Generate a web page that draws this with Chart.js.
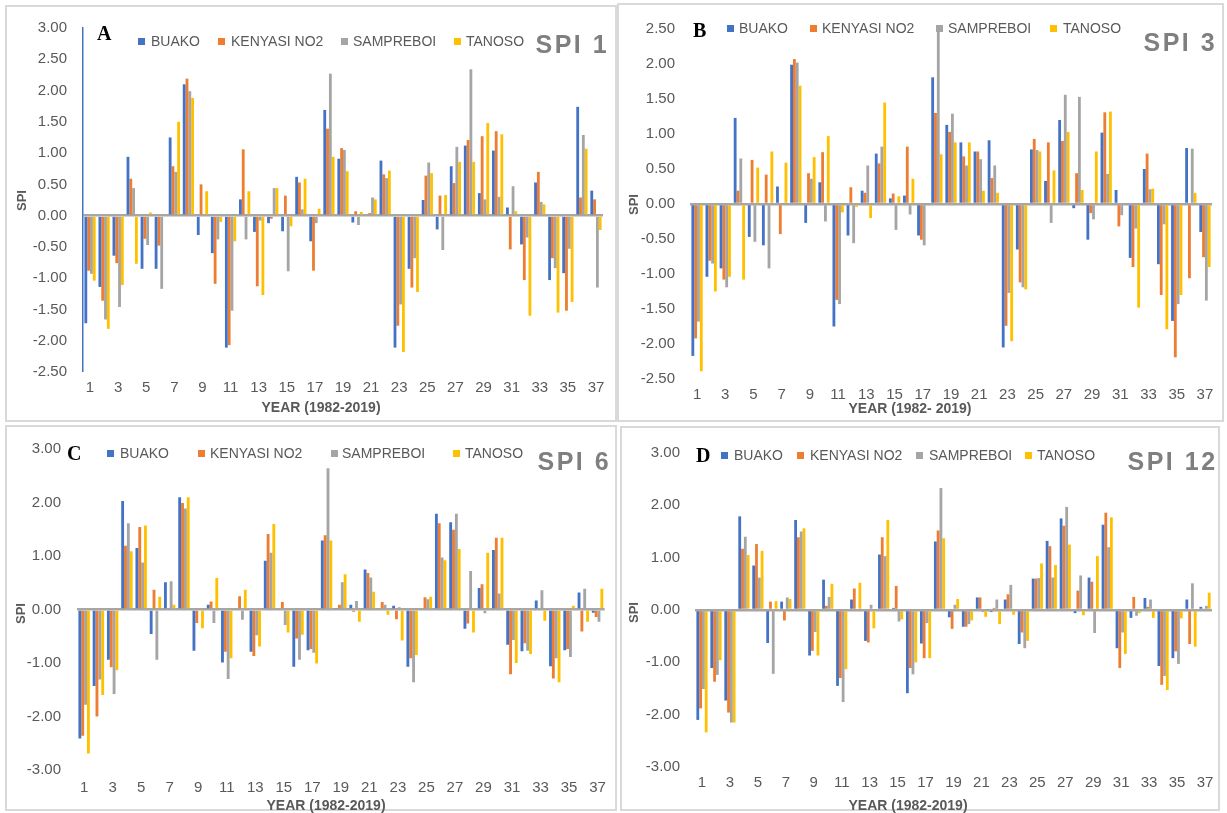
<!DOCTYPE html>
<html lang="en">

<head>
    <meta charset="UTF-8">
    <title>SPI 1, 3, 6, 12</title>
    <script src="https://cdn.jsdelivr.net/npm/chart.js"></script>

    <style>
        body {
            margin: 0;
            background: #ffffff;
            font-family: "Liberation Sans", Arial, sans-serif;
        }

        #page {
            position: relative;
            width: 1227px;
            height: 813px;
            overflow: hidden;
            background: #ffffff;
        }

        .frame {
            position: absolute;
            border: 2px solid #d9d9d9;
            box-sizing: border-box;
        }

        .chart-box {
            position: absolute;
        }

        .txt {
            position: absolute;
            white-space: nowrap;
            line-height: 1;
        }

        .sq {
            position: absolute;
            width: 7px;
            height: 7px;
        }
    </style>
</head>

<body>
    <div id="page"></div>

    <script>
        // years 1..37 (1982-2019)
        const years = [];
        for (let i = 1; i <= 37; i++) years.push(String(i));

        const seriesNames = ["BUAKO", "KENYASI NO2", "SAMPREBOI", "TANOSO"];
        const seriesColors = ["#4472C4", "#ED7D31", "#A5A5A5", "#FFC000"];

        // SPI 1
        const spi1Buako = [-1.72, -1.14, -0.64, 0.94, -0.85, -0.85, 1.25, 2.10, -0.31, -0.60, -2.11, 0.26, -0.26, -0.12, -0.25, 0.62, -0.41, 1.69, 0.91, -0.11, 0.02, 0.88, -2.11, -0.85, 0.25, -0.22, 0.79, 1.12, 0.36, 1.04, 0.13, -0.46, 0.53, -1.03, -0.92, 1.74, 0.40];
        const spi1Kenyasi = [-0.88, -1.36, -0.76, 0.59, -0.37, -0.48, 0.79, 2.19, 0.50, -1.09, -2.07, 1.06, -1.13, -0.05, 0.32, 0.53, -0.88, 1.39, 1.08, 0.07, 0.04, 0.66, -1.76, -1.15, 0.64, 0.32, 0.52, 1.21, 1.27, 1.35, -0.54, -1.03, 0.70, -0.68, -1.52, 0.29, 0.26];
        const spi1Sampreboi = [-0.93, -1.66, -1.46, 0.44, -0.47, -1.17, 0.70, 1.99, 0, -0.38, -1.52, -0.38, -0.08, 0.44, -0.89, 0.10, -0.12, 2.27, 1.05, -0.15, 0.29, 0.60, -1.42, -0.68, 0.85, -0.55, 1.10, 2.34, 0.26, 0.30, 0.47, -0.35, 0.22, -0.84, -0.53, 1.29, -1.15];
        const spi1Tanoso = [-1.04, -1.81, -1.11, -0.77, 0.05, 0, 1.50, 1.88, 0.39, -0.10, -0.41, 0.39, -1.27, 0.44, -0.17, 0.59, 0.11, 0.94, 0.71, 0.06, 0.26, 0.72, -2.18, -1.22, 0.68, 0.33, 0.86, 0.86, 1.48, 1.30, 0.07, -1.60, 0.18, -1.55, -1.38, 1.07, -0.23];

        // SPI 3
        const spi3Buako = [-2.17, -1.04, -0.92, 1.23, -0.47, -0.59, 0.25, 1.99, -0.27, 0.31, -1.75, -0.45, 0.19, 0.72, 0.08, 0.12, -0.45, 1.81, 1.13, 0.88, 0.75, 0.91, -2.05, -0.65, 0.78, 0.33, 1.20, -0.06, -0.51, 1.02, 0.20, -0.77, 0.50, -0.86, -1.67, 0.80, -0.40];
        const spi3Kenyasi = [-1.92, -0.81, -1.08, 0.19, 0.63, 0.42, -0.43, 2.07, 0.44, 0.74, -1.37, 0.24, 0.16, 0.58, 0.15, 0.82, -0.51, 1.30, 1.03, 0.68, 0.75, 0.37, -1.74, -1.12, 0.93, 0.88, 0.90, 0.44, -0.13, 1.31, -0.32, -0.90, 0.72, -1.30, -2.19, -1.06, -0.76];
        const spi3Sampreboi = [-1.68, -0.85, -1.19, 0.65, -0.54, -0.92, 0, 2.02, 0.36, -0.25, -1.43, -0.56, 0.55, 0.82, -0.37, -0.15, -0.59, 2.55, 1.29, 0.55, 0.64, 0.55, -1.27, -1.19, 0.77, -0.27, 1.56, 1.53, -0.22, 0.43, -0.16, -0.35, 0.21, -0.29, -1.43, 0.79, -1.38];
        const spi3Tanoso = [-2.39, -1.25, -1.04, -1.08, 0.52, 0.75, 0.59, 1.69, 0.67, 0.97, -0.12, -0.04, -0.20, 1.45, 0.11, 0.36, 0, 0.71, 0.88, 0.88, 0.19, 0.16, -1.96, -1.22, 0.75, 0.48, 1.03, 0.20, 0.75, 1.32, 0, -1.48, 0.22, -1.79, -1.30, 0.16, -0.90];

        // SPI 6
        const spi6Buako = [-2.41, -1.43, -0.94, 2.03, 1.15, -0.46, 0.51, 2.10, -0.77, 0.09, -0.99, 0, -0.79, 0.91, 0, -1.07, -0.76, 1.29, 0.03, 0.09, 0.75, 0, 0.07, -1.07, 0, 1.79, 1.63, -0.36, 0.40, 1.11, -0.66, -0.78, 0.17, -1.06, -0.76, 0.32, -0.06];
        const spi6Kenyasi = [-2.36, -2.00, -1.08, 1.19, 1.54, 0.37, 0, 1.99, -0.25, 0.15, -0.79, 0.25, -0.87, 1.41, 0.14, -0.54, -0.74, 1.39, 0.09, -0.04, 0.68, 0.14, -0.18, -0.91, 0.23, 1.61, 1.49, -0.26, 0.47, 1.34, -1.21, -0.63, 0, -1.29, -0.74, -0.41, -0.14];
        const spi6Sampreboi = [-1.78, -1.31, -1.58, 1.61, 0.88, -0.94, 0.53, 1.89, 0, -0.25, -1.30, -0.19, -0.48, 1.06, -0.29, -0.94, -0.81, 2.64, 0.51, 0.16, 0.60, 0.09, 0.04, -1.36, 0.19, 0.97, 1.79, 0.72, -0.07, 0.30, -0.57, -0.77, 0.36, -0.91, -0.89, 0.39, -0.23];
        const spi6Tanoso = [-2.69, -1.60, -1.13, 1.09, 1.57, 0.24, 0.09, 2.10, -0.35, 0.59, -0.91, 0.37, -0.69, 1.60, -0.43, -0.47, -1.01, 1.29, 0.66, -0.23, 0.33, -0.10, -0.58, -0.85, 0.24, 0.92, 1.13, -0.43, 1.06, 1.34, -1.00, -0.83, -0.21, -1.36, 0.07, -0.23, 0.39];

        // SPI 12
        const spi12Buako = [-2.10, -1.11, -1.73, 1.79, 0.85, -0.63, 0.16, 1.72, -0.87, 0.58, -1.45, 0.20, -0.59, 1.06, 0.04, -1.59, -0.64, 1.31, -0.14, -0.32, 0.24, -0.04, 0.20, -0.65, 0.60, 1.32, 1.75, -0.06, 0.62, 1.63, -0.73, -0.15, 0.23, -1.07, -0.92, 0.20, 0.06];
        const spi12Kenyasi = [-1.88, -1.37, -1.96, 1.17, 1.26, 0.16, -0.20, 1.39, -0.78, 0.08, -1.30, 0.41, -0.62, 1.39, 0.46, -1.11, -0.92, 1.52, -0.36, -0.32, 0.24, 0.04, 0.30, -0.43, 0.60, 1.22, 1.61, 0.37, 0.54, 1.86, -1.11, 0.25, 0.06, -1.43, -0.79, -0.65, 0.02];
        const spi12Sampreboi = [-1.51, -1.24, -2.15, 1.40, 0.62, -1.22, 0.24, 1.50, -0.42, 0.25, -1.76, 0, 0.10, 1.03, -0.22, -1.23, -0.25, 2.33, 0.10, -0.27, -0.04, 0.20, 0.48, -0.73, 0.61, 0.62, 1.97, 0.66, -0.44, 1.20, -0.43, -0.11, 0.20, -1.26, -1.03, 0.51, 0.08];
        const spi12Tanoso = [-2.34, -0.96, -2.15, 1.05, 1.13, 0.17, 0.21, 1.56, -0.87, 0.50, -1.13, 0.52, -0.35, 1.72, -0.18, -1.00, -0.92, 1.37, 0.21, -0.20, -0.13, -0.27, -0.09, -0.59, 0.89, 0.86, 1.25, -0.10, 1.03, 1.77, -0.84, -0.06, -0.15, -1.53, -0.16, -0.70, 0.33];

        // y axis ranges per panel
        const yMinA = -2.5, yMaxA = 3, yStepA = 0.5;
        const yMinB = -2.5, yMaxB = 2.5, yStepB = 0.5;
        const yMinCD = -3, yMaxCD = 3, yStepCD = 1;

        // panel layout (page pixels)
        const panels = [
            {
                letter: "A", title: "SPI 1", xTitle: "YEAR (1982-2019)",
                series: [spi1Buako, spi1Kenyasi, spi1Sampreboi, spi1Tanoso],
                yMin: yMinA, yMax: yMaxA, yStep: yStepA, axisLine: true,
                box: { l: 3, t: 3, w: 612, h: 418 }, area: { l: 83, r: 603, t: 27, b: 372 },
                yPad: 16, xPad: 7,
                legendY: 41, legendSq: [138, 218, 341, 454], legendTx: [151, 231, 353, 466],
                letterPos: [97, 33], titleRight: 607, titleY: 44,
                yTitle: [21, 200], xTitlePos: [321, 407]
            },
            {
                letter: "B", title: "SPI 3", xTitle: "YEAR (1982- 2019)",
                series: [spi3Buako, spi3Kenyasi, spi3Sampreboi, spi3Tanoso],
                yMin: yMinB, yMax: yMaxB, yStep: yStepB, axisLine: false,
                box: { l: 619, t: 3, w: 604, h: 418 }, area: { l: 690, r: 1212, t: 29, b: 379 },
                yPad: 15, xPad: 7,
                legendY: 28, legendSq: [727, 810, 936, 1050], legendTx: [739, 822, 948, 1063],
                letterPos: [693, 30], titleRight: 1215, titleY: 42,
                yTitle: [633, 204], xTitlePos: [910, 408]
            },
            {
                letter: "C", title: "SPI 6", xTitle: "YEAR (1982-2019)",
                series: [spi6Buako, spi6Kenyasi, spi6Sampreboi, spi6Tanoso],
                yMin: yMinCD, yMax: yMaxCD, yStep: yStepCD, axisLine: false,
                box: { l: 3, t: 424, w: 612, h: 387 }, area: { l: 77, r: 607, t: 448, b: 770 },
                yPad: 16, xPad: 9,
                legendY: 453, legendSq: [107, 198, 331, 453], legendTx: [120, 210, 342, 465],
                letterPos: [67, 453], titleRight: 609, titleY: 461,
                yTitle: [20, 613], xTitlePos: [326, 805]
            },
            {
                letter: "D", title: "SPI 12", xTitle: "YEAR (1982-2019)",
                series: [spi12Buako, spi12Kenyasi, spi12Sampreboi, spi12Tanoso],
                yMin: yMinCD, yMax: yMaxCD, yStep: yStepCD, axisLine: false,
                box: { l: 619, t: 424, w: 604, h: 387 }, area: { l: 695, r: 1212, t: 453, b: 767 },
                yPad: 15, xPad: 7,
                legendY: 455, legendSq: [721, 797, 916, 1025], legendTx: [734, 810, 929, 1037],
                letterPos: [696, 455], titleRight: 1215, titleY: 461,
                yTitle: [633, 612], xTitlePos: [908, 805]
            }
        ];

        const page = document.getElementById("page");
        const X_AXIS_H = 30;
        const tickColor = "#595959";

        function addText(text, left, centerY, size, css) {
            const el = document.createElement("div");
            el.className = "txt";
            el.textContent = text;
            el.style.left = left + "px";
            el.style.top = (centerY - size / 2) + "px";
            el.style.fontSize = size + "px";
            Object.assign(el.style, css || {});
            page.appendChild(el);
            return el;
        }

        // frames round the four panels
        [[5, 5, 612, 417], [617, 3, 607, 419], [5, 425, 612, 386], [620, 426, 600, 385]].forEach(f => {
            const el = document.createElement("div");
            el.className = "frame";
            el.style.left = f[0] + "px";
            el.style.top = f[1] + "px";
            el.style.width = f[2] + "px";
            el.style.height = f[3] + "px";
            page.appendChild(el);
        });

        panels.forEach(p => {
            const holder = document.createElement("div");
            holder.className = "chart-box";
            holder.style.left = p.box.l + "px";
            holder.style.top = p.box.t + "px";
            holder.style.width = p.box.w + "px";
            holder.style.height = p.box.h + "px";
            const canvas = document.createElement("canvas");
            holder.appendChild(canvas);
            page.appendChild(holder);

            const yWidth = p.area.l - p.box.l;

            new Chart(canvas, {
                type: "bar",
                data: {
                    labels: years,
                    datasets: p.series.map((values, i) => ({
                        label: seriesNames[i],
                        data: values,
                        backgroundColor: seriesColors[i],
                        borderWidth: 0,
                        barPercentage: 1.0,
                        categoryPercentage: 0.8
                    }))
                },
                options: {
                    responsive: true,
                    maintainAspectRatio: false,
                    animation: false,
                    layout: {
                        padding: {
                            left: 0,
                            right: p.box.l + p.box.w - p.area.r,
                            top: p.area.t - p.box.t,
                            bottom: p.box.t + p.box.h - p.area.b - X_AXIS_H
                        }
                    },
                    plugins: {
                        legend: { display: false },
                        tooltip: { enabled: false }
                    },
                    scales: {
                        x: {
                            grid: { display: false, drawTicks: false },
                            border: { display: false },
                            ticks: {
                                autoSkip: false,
                                maxRotation: 0,
                                padding: p.xPad,
                                color: tickColor,
                                font: { family: "Liberation Sans", size: 15 },
                                callback: (v, i) => (i % 2 === 0 ? years[i] : "")
                            },
                            afterFit: s => { s.height = X_AXIS_H; }
                        },
                        y: {
                            min: p.yMin,
                            max: p.yMax,
                            grid: {
                                drawTicks: false,
                                color: ctx => (ctx.tick && ctx.tick.value === 0 ? "#a6a6a6" : "rgba(0,0,0,0)"),
                                lineWidth: ctx => (ctx.tick && ctx.tick.value === 0 ? 2.5 : 0)
                            },
                            border: { display: p.axisLine, color: "#4472C4", width: 1.5 },
                            ticks: {
                                stepSize: p.yStep,
                                padding: p.yPad,
                                color: tickColor,
                                font: { family: "Liberation Sans", size: 15 },
                                callback: v => Number(v).toFixed(2)
                            },
                            afterFit: s => { s.width = yWidth; }
                        }
                    }
                }
            });

            // legend
            seriesNames.forEach((name, i) => {
                const sq = document.createElement("div");
                sq.className = "sq";
                sq.style.left = p.legendSq[i] + "px";
                sq.style.top = (p.legendY - 3.5) + "px";
                sq.style.background = seriesColors[i];
                page.appendChild(sq);
                addText(name, p.legendTx[i], p.legendY, 14, { color: tickColor });
            });

            // panel letter and SPI title
            addText(p.letter, p.letterPos[0], p.letterPos[1], 20, {
                fontFamily: "'Liberation Serif', 'Times New Roman', serif", fontWeight: "bold", color: "#000"
            });
            const t = addText(p.title, 0, p.titleY, 25, {
                fontWeight: "bold", color: "#7f7f7f", letterSpacing: "2.5px"
            });
            t.style.left = (p.titleRight - t.offsetWidth + 2.5) + "px";

            // axis titles
            const yt = addText("SPI", 0, p.yTitle[1], 13, { fontWeight: "bold", color: tickColor });
            yt.style.left = (p.yTitle[0] - yt.offsetWidth / 2) + "px";
            yt.style.transform = "rotate(-90deg)";
            const xt = addText(p.xTitle, 0, p.xTitlePos[1], 14, { fontWeight: "bold", color: tickColor });
            xt.style.left = (p.xTitlePos[0] - xt.offsetWidth / 2) + "px";
        });
    </script>
</body>

</html>
